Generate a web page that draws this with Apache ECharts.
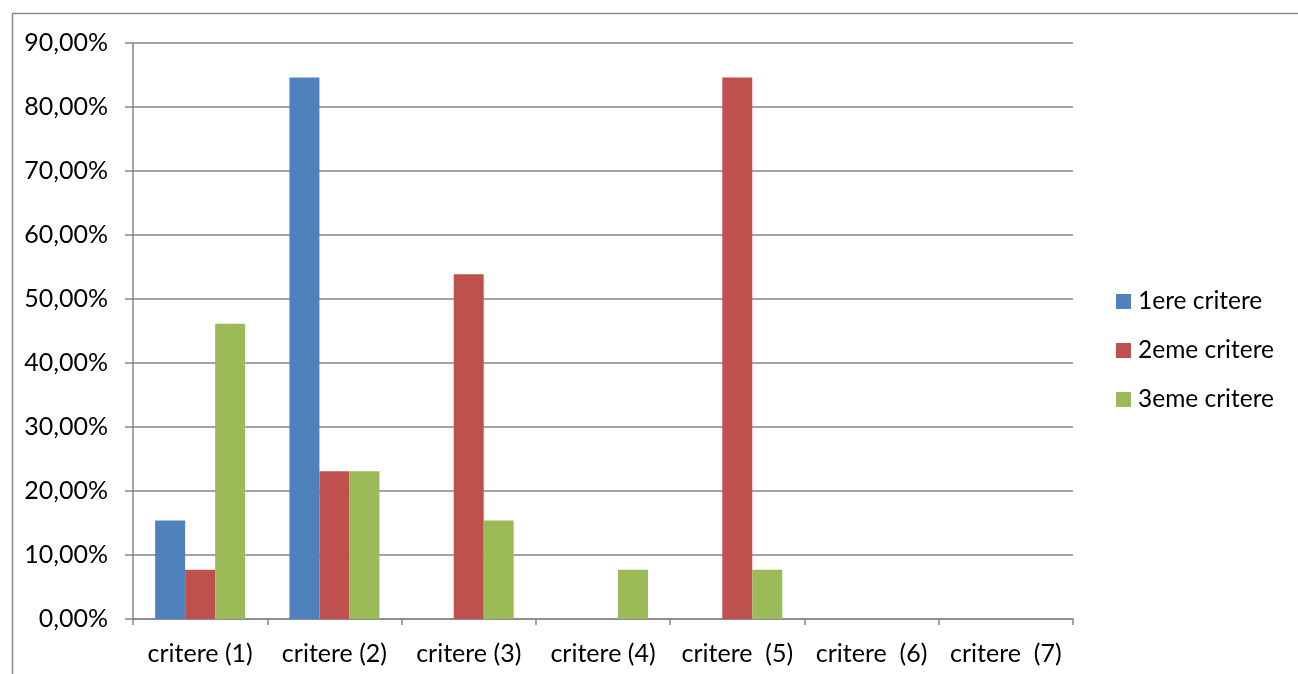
<!DOCTYPE html>
<html>
<head>
<meta charset="utf-8">
<script src="https://cdn.jsdelivr.net/npm/echarts@6/dist/echarts.min.js"></script>
<style>
  html, body { margin: 0; padding: 0; background: #fff; }
  #chart { width: 1298px; height: 674px; }
</style>
</head>
<body>
<div id="chart"></div>
<script>
// Categories along the x axis
const categories = ['critere (1)', 'critere (2)', 'critere (3)', 'critere (4)', 'critere  (5)', 'critere  (6)', 'critere  (7)'];

// Share of answers per criterion (fractions)
const premier = [0.1538, 0.8462, 0, 0, 0, 0, 0];
const deuxieme = [0.0769, 0.2308, 0.5385, 0, 0.8462, 0, 0];
const troisieme = [0.4615, 0.2308, 0.1538, 0.0769, 0.0769, 0, 0];

const seriesNames = ['1ere critere', '2eme critere', '3eme critere'];
const colors = ['#4F81BD', '#C0504D', '#9BBB59'];

const FONT = 'Lato';
const chart = echarts.init(document.getElementById('chart'), null, { renderer: 'canvas' });

const fmtPct = v => (v * 100).toFixed(2).replace('.', ',') + '%';

chart.setOption({
  animation: false,
  backgroundColor: '#ffffff',
  textStyle: { fontFamily: FONT },
  graphic: [{
    type: 'rect',
    shape: { x: 12.5, y: 13.5, width: 1400, height: 800 },
    style: { fill: 'none', stroke: '#8c8c8c', lineWidth: 1.5 },
    silent: true,
    z: -1
  }],
  grid: { left: 133, top: 43, right: 225, bottom: 55, containLabel: false },
  legend: {
    orient: 'vertical',
    left: 1116,
    top: 289,
    padding: 0,
    itemWidth: 15,
    itemHeight: 15,
    itemGap: 24,
    icon: 'rect',
    textStyle: { fontFamily: FONT, fontSize: 24.5, color: '#000', padding: [0, 0, 0, 2] },
    data: seriesNames
  },
  xAxis: {
    type: 'category',
    data: categories,
    axisLine: { lineStyle: { color: '#868686', width: 1.5 } },
    axisTick: { show: true, length: 6, alignWithLabel: false, lineStyle: { color: '#868686', width: 1.5 } },
    axisLabel: { fontFamily: FONT, fontSize: 25, color: '#000', margin: 22, interval: 0 },
    splitLine: { show: false }
  },
  yAxis: {
    type: 'value',
    min: 0,
    max: 0.9,
    interval: 0.1,
    axisLine: { show: true, lineStyle: { color: '#868686', width: 1.5 } },
    axisTick: { show: true, length: 8, lineStyle: { color: '#868686', width: 1.5 } },
    axisLabel: { fontFamily: FONT, fontSize: 25, color: '#000', margin: 25, formatter: fmtPct },
    splitLine: { show: true, lineStyle: { color: '#868686', width: 1.5 } }
  },
  series: [premier, deuxieme, troisieme].map((d, i) => ({
    name: seriesNames[i],
    type: 'bar',
    data: d,
    barGap: '0%',
    barCategoryGap: '33%',
    itemStyle: { color: colors[i] }
  }))
});
</script>
</body>
</html>
